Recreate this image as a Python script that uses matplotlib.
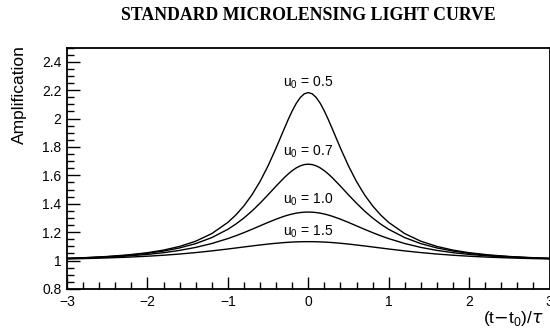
import matplotlib
matplotlib.use("Agg")
import matplotlib.pyplot as plt
from matplotlib.ticker import MultipleLocator, FixedLocator

# Time from maximum (t >= 0 side), in units of the Einstein crossing time
t_half = [0.0, 0.05, 0.1, 0.15, 0.2, 0.25, 0.3, 0.4, 0.5, 0.6, 0.7, 0.8, 0.9,
          1.0, 1.2, 1.4, 1.6, 1.8, 2.0, 2.25, 2.5, 2.75, 3.0]

# Amplification on the positive side; the curves are symmetric about t = 0
amp_u05_half = [2.1828, 2.1738, 2.1474, 2.1061, 2.0531, 1.9920, 1.9263, 1.7923,
                1.6667, 1.5564, 1.4630, 1.3853, 1.3213, 1.2687, 1.1899, 1.1364,
                1.0996, 1.0738, 1.0555, 1.0396, 1.0289, 1.0214, 1.0162]
amp_u07_half = [1.6787, 1.6757, 1.6667, 1.6522, 1.6328, 1.6094, 1.5830, 1.5243,
                1.4630, 1.4037, 1.3489, 1.3000, 1.2572, 1.2202, 1.1617, 1.1194,
                1.0891, 1.0671, 1.0512, 1.0370, 1.0273, 1.0204, 1.0155]
amp_u10_half = [1.3416, 1.3408, 1.3381, 1.3338, 1.3278, 1.3205, 1.3119, 1.2916,
                1.2687, 1.2445, 1.2202, 1.1969, 1.1749, 1.1547, 1.1201, 1.0928,
                1.0717, 1.0557, 1.0435, 1.0323, 1.0242, 1.0184, 1.0142]
amp_u15_half = [1.1333, 1.1331, 1.1326, 1.1317, 1.1304, 1.1287, 1.1268, 1.1220,
                1.1163, 1.1099, 1.1030, 1.0959, 1.0887, 1.0816, 1.0682, 1.0563,
                1.0461, 1.0377, 1.0308, 1.0239, 1.0187, 1.0147, 1.0116]

curve_labels = [r"u$_\mathregular{0}$ = 0.5", r"u$_\mathregular{0}$ = 0.7",
                r"u$_\mathregular{0}$ = 1.0", r"u$_\mathregular{0}$ = 1.5"]
label_y = [2.25, 1.765, 1.43, 1.20]

x_ticks = [-3, -2, -1, 0, 1, 2, 3]
y_ticks = [0.8, 1.0, 1.2, 1.4, 1.6, 1.8, 2.0, 2.2, 2.4]
y_tick_labels = ["0.8", "1", "1.2", "1.4", "1.6", "1.8", "2", "2.2", "2.4"]
x_tick_labels = ["\u22123", "\u22122", "\u22121", "0", "1", "2", "3"]

t_full = [-t for t in t_half[:0:-1]] + t_half


def full_curve(half):
    return half[:0:-1] + half


W, H = 550, 331
fig = plt.figure(figsize=(W / 100, H / 100), dpi=100)
ax = fig.add_axes([67 / W, 42 / H, 482.5 / W, 241.5 / H])

sans = "Liberation Sans"
for half in (amp_u05_half, amp_u07_half, amp_u10_half, amp_u15_half):
    ax.plot(t_full, full_curve(half), color="black", lw=1.0)

for text, y in zip(curve_labels, label_y):
    ax.text(0.0, y, text, ha="center", va="center", fontsize=10,
            family=sans)

ax.set_xlim(-3, 3)
ax.set_ylim(0.8, 2.5)
ax.xaxis.set_major_locator(FixedLocator(x_ticks))
ax.yaxis.set_major_locator(FixedLocator(y_ticks))
ax.xaxis.set_minor_locator(MultipleLocator(0.2))
ax.yaxis.set_minor_locator(MultipleLocator(0.05))
ax.set_xticklabels(x_tick_labels, family=sans, fontsize=10)
ax.set_yticklabels(y_tick_labels, family=sans, fontsize=10)
ax.tick_params(which="major", direction="in", length=9, width=1.0,
               top=False, right=False, pad=4)
ax.tick_params(which="minor", direction="in", length=5, width=1.0,
               top=False, right=False)
for sp in ax.spines.values():
    sp.set_linewidth(1.3)

fig.text(308 / W, 1 - 16 / H, "STANDARD MICROLENSING LIGHT CURVE",
         ha="center", va="center", fontsize=12.8, fontweight="bold",
         family="Liberation Serif")
fig.text(19 / W, 1 - 45 / H, "Amplification", rotation=90, ha="center",
         va="top", fontsize=12.5, family=sans)
fig.text(483 / W, 1 - 318 / H, r"(t$-$t$_\mathregular{0}$)/$\tau$",
         ha="left", va="center", fontsize=12.5, family=sans)

fig.savefig("out.png", dpi=100)
